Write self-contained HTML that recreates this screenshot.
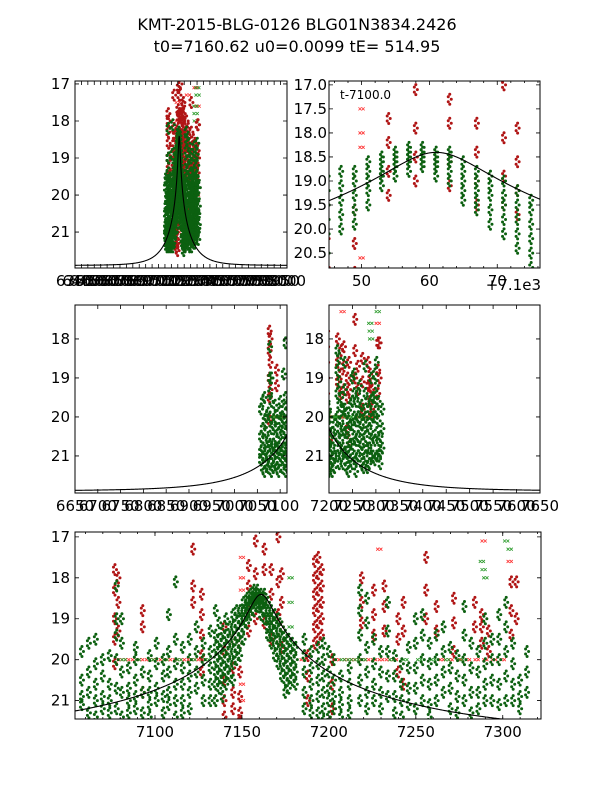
<!DOCTYPE html>
<html><head><meta charset="utf-8"><style>
html,body{margin:0;padding:0;background:#fff;}
svg{display:block;font-family:"DejaVu Sans","Liberation Sans",sans-serif;}
</style></head><body>
<svg id="fig" width="600" height="800" viewBox="0 0 600 800" xmlns="http://www.w3.org/2000/svg">
<rect width="600" height="800" fill="#fff"/>
<text x="297" y="30" font-size="16" text-anchor="middle">KMT-2015-BLG-0126 BLG01N3834.2426</text>
<text x="297" y="52" font-size="16" text-anchor="middle">t0=7160.62 u0=0.0099 tE= 514.95</text>
</svg>
<script>
// drawn model-curve parameters (matched to plotted curve)
const curveT0 = 7161.0, curveUmin = 0.04, curveTE = 170, curveBaseMag = 21.9, curveFs = 1.0;
// green observations: per-night times and magnitudes
const greenTimes = [7058,7062,7066,7070,7074,7078,7081,7085,7089,7093,7097,7101,7105,7108,7112,7116,7120,7124,7128,7132,7135,7137,7139,7141,7143,7145,7147,7149,7151,7153,7155,7157,7159,7161,7163,7165,7167,7169,7171,7173,7175,7177,7179,7181,7186,7190,7194,7197,7200,7203,7207,7212,7218,7222,7226,7230,7234,7238,7242,7246,7250,7254,7258,7262,7266,7270,7274,7278,7282,7286,7290,7294,7298,7302,7306,7310,7314];
const greenMags = [
[19.8,20.5,21.1,20.9],[20.3,20.8,21.3,19.6],[20.1,20.6,21.0,21.4,19.5],[20.4,20.9,21.2,20.0],[19.9,20.6,21.0,21.3],
[19.0,19.4,20.0,20.7,21.2,18.2],[19.0,19.6,20.3,20.8,21.4],[20.2,20.7,21.0,21.3],[20.0,20.5,20.9,21.2,19.7],[20.3,20.8,21.3],
[19.9,20.4,20.8,21.1,21.4],[19.6,20.1,20.7,21.0],[20.0,20.4,20.9,21.3],[18.9,19.8,20.3,20.8,21.1],[18.1,19.5,20.1,20.6,21.0,21.4],
[19.7,20.2,20.6,21.0,21.3],[19.5,20.0,20.4,20.8,21.2],[19.2,19.8,20.3,20.7],[19.6,20.0,20.5,21.0],[19.3,19.8,20.2,20.6,21.0],
[18.8,19.4,19.7,20.0,20.3,20.6,21.0],[19.1,19.5,19.8,20.1,20.4,20.7],[19.3,19.6,19.9,20.2,20.5,20.9],[19.0,19.4,19.7,20.0,20.3,20.6],[19.2,19.5,19.8,20.1,20.4],
[18.9,19.2,19.5,19.8,20.1,20.5],[18.8,19.1,19.4,19.7,20.0],[18.8,19.0,19.3,19.6,19.9],[18.6,18.8,19.0,19.2,19.5],[18.5,18.6,18.8,18.9,19.1],
[18.4,18.5,18.6,18.7,18.9],[18.3,18.4,18.5,18.6,18.8],[18.3,18.4,18.5,18.6,18.7],[18.4,18.5,18.6,18.7,18.9],[18.4,18.5,18.6,18.8,19.0],
[18.6,18.8,19.0,19.2,19.4],[18.8,19.0,19.2,19.4,19.6],[18.9,19.1,19.3,19.6,19.9],[19.0,19.3,19.5,19.8,20.1],[19.2,19.5,19.8,20.1,20.4],
[19.4,19.6,19.9,20.2,20.5,20.8],[19.5,19.8,20.1,20.4,20.7],[19.6,19.9,20.2,20.5],[19.7,20.0,20.3,20.6],[19.5,19.9,20.3,20.8,21.2],
[19.8,20.2,20.6,21.0,21.3],[19.7,20.1,20.5,20.9,21.3],[19.6,20.0,20.4,20.8,21.2,21.5],[19.8,20.3,20.7,21.0,21.4],[20.0,20.5,20.9,21.2],
[20.4,20.8,21.1,21.4],[20.2,20.6,21.0,21.3],[18.3,18.8,19.4,20.0,20.5,21.0],[18.5,19.1,19.7,20.3,20.8,21.2],[19.5,20.1,20.6,21.0],
[19.8,20.3,20.8,21.2],[18.6,19.3,19.8,20.4,20.9],[19.9,20.4,20.9,21.3],[20.1,20.6,21.0,21.4],[19.7,20.2,20.7,21.1],
[19.0,19.6,20.2,20.7,21.2],[18.9,19.4,20.0,20.5,21.0],[19.6,20.1,20.6,21.1,21.4],[19.4,20.0,20.5,21.0],[19.2,19.8,20.3,20.8],
[19.7,20.2,20.7,21.2],[19.9,20.4,20.9,21.3],[18.7,19.4,20.0,20.5,21.0],[19.6,20.2,20.8,21.3],[19.8,20.3,20.8,21.2],
[19.0,19.6,20.1,20.6,21.0],[19.5,20.0,20.5,21.0],[18.9,19.5,20.0,20.6,21.1],[18.6,19.2,19.8,20.4,21.0],[19.6,20.1,20.6,21.0],
[20.5,20.9,21.2],[19.8,20.3,20.8]];
// red observations
const redTimes = [7077,7079,7093,7122,7127,7140,7145,7149,7154,7158,7163,7167,7171,7173,7188,7192,7194,7196,7202,7219,7226,7232,7240,7243,7256,7262,7272,7284,7288,7292,7305,7308];
const redMags = [
[17.8,18.3,19.0,19.5,20.1],[18.0,18.6,19.3],[18.8,19.2,20.8],[17.3,18.2,18.6],[18.4,18.9,19.4,19.9,20.3],
[19.2,19.8,20.5,21.0,21.4],[19.5,20.2,20.8,21.2],[19.6,20.3,20.9,21.3,21.5],[17.7,18.2,18.8,19.3],[17.1,17.9,18.5,19.0],
[17.3,17.8,18.6,19.1],[17.8,18.4,19.0,19.5],[17.0,18.1,18.9,19.5],[17.9,18.6,19.2,19.7],[19.9,20.4,21.0],
[17.6,18.0,18.4,18.8,19.2,19.6],[17.5,17.9,18.3,18.7,19.1,19.5],[17.8,18.2,18.6,19.0,19.4],[20.0,20.6,21.2],[18.0,18.6,19.1],
[18.3,18.9,19.4],[18.2,18.7,19.3],[19.0,19.5,20.3],[18.6,19.3,20.6],[17.5,18.3,19.0],
[18.7,19.3],[18.5,19.1,19.8],[18.6,19.2],[18.9,19.2,19.6],[19.3,19.8],[18.1,18.8,19.4],[18.1,19.0]];
// flagged (x-marker) points
const redFlagTimes = [7080,7084,7088,7092,7096,7100,7104,7108,7112,7116,7120,7124,7128,7150,7150,7150,7150,7150,7185,7205,7210,7214,7218,7222,7226,7230,7234,7238,7265,7270,7275,7280,7285,7290,7295,7300,7229,7289,7304];
const redFlagMags  = [20,20,20,20,20,20,20,20,20,20,20,20,20,17.5,18.0,18.3,20.6,21.0,20,20,20,20,20,20,20,20,20,20,20,20,20,20,20,20,20,20,17.3,17.1,17.6];
const greenFlagTimes = [7082,7090,7098,7106,7114,7122,7130,7178,7178,7178,7180,7208,7212,7216,7220,7236,7244,7252,7260,7268,7276,7288,7289,7290,7302,7304];
const greenFlagMags  = [20,20,20,20,20,20,20,18.0,18.6,19.2,19.6,20,20,20,20,20,20,20,20,20,20,17.6,17.8,18.0,17.1,17.3];

const panelDefs = [
 {name:'full-range-panel', x:75,y:81,w:212,h:187, xlim:[6350,8000], ylim:[16.92,21.97], xt:range(6350,8000,50), yt:[17,18,19,20,21], fy:v=>String(v), fx:v=>String(v)},
 {name:'peak-zoom-panel', x:329,y:81,w:211,h:187, xlim:[7145.2,7176.3], ylim:[16.92,20.81], xt:[7150,7160,7170], yt:[17,17.5,18,18.5,19,19.5,20,20.5], fy:v=>v.toFixed(1), fx:v=>String(v-7100), minorX:[7146,7148,7152,7154,7156,7158,7162,7164,7166,7168,7172,7174,7176]},
 {name:'pre-event-panel', x:75,y:305,w:212,h:188, xlim:[6650,7115], ylim:[17.13,21.95], xt:range(6650,7100,50), yt:[18,19,20,21], fy:v=>String(v), fx:v=>String(v)},
 {name:'post-event-panel', x:329,y:305,w:211,h:188, xlim:[7200,7650], ylim:[17.13,21.95], xt:range(7200,7650,50), yt:[18,19,20,21], fy:v=>String(v), fx:v=>String(v)},
 {name:'event-overview-panel', x:75,y:532,w:466,h:187, xlim:[7054,7322], ylim:[16.88,21.45], xt:[7100,7150,7200,7250,7300], yt:[17,18,19,20,21], fy:v=>String(v), fx:v=>String(v), minorX:range(7060,7320,10)}
];
function range(a,b,s){const r=[];for(let v=a;v<=b+1e-9;v+=s)r.push(v);return r;}
const NS='http://www.w3.org/2000/svg';
const fig=document.getElementById('fig');
function mk(tag,attrs,parent){const e=document.createElementNS(NS,tag);for(const k in attrs)e.setAttribute(k,attrs[k]);(parent||fig).appendChild(e);return e;}
function modelMag(t){const tau=(t-curveT0)/curveTE;const u=Math.sqrt(curveUmin*curveUmin+tau*tau);const A=(u*u+2)/(u*Math.sqrt(u*u+4));return curveBaseMag-2.5*Math.log10(1+curveFs*(A-1));}

panelDefs.forEach((p,i)=>{
  const sx=t=>p.x+(t-p.xlim[0])/(p.xlim[1]-p.xlim[0])*p.w;
  const sy=m=>p.y+(m-p.ylim[0])/(p.ylim[1]-p.ylim[0])*p.h;
  const g=mk('g',{});
  
  
  const cp=mk('clipPath',{id:'c'+i},g);
  mk('rect',{x:p.x,y:p.y,width:p.w,height:p.h},cp);
  const plot=mk('g',{'clip-path':'url(#c'+i+')'},g);
  let d='';
  for(let k=0;k<=600;k++){const t=p.xlim[0]+(p.xlim[1]-p.xlim[0])*k/600;d+=(k?'L':'M')+sx(t).toFixed(2)+','+sy(modelMag(t)).toFixed(2);}
  function xs(times,mags,col,nm){
    const gg=mk('g',{stroke:col,'stroke-width':0.8},plot);
    
    
    times.forEach((t,j)=>{const cx=sx(t),cy=sy(mags[j]);
      [-1.6,1.6].forEach(o=>{mk('path',{d:`M${cx+o-1.5},${cy-1.5}l3,3M${cx+o-1.5},${cy+1.5}l3,-3`},gg);});
    });
  }
  xs(redFlagTimes,redFlagMags,'#ff3030','red-flagged-points');
  xs(greenFlagTimes,greenFlagMags,'#2a9a2a','green-flagged-points');
  function dots(times,mags,col,nm){
    const gg=mk('g',{fill:col},plot);
    
    
    times.forEach((t,j)=>{mags[j].forEach(m=>{const cx=sx(t),cy=sy(m);
      [[-1.5,-2.5],[1.5,0],[-1.5,2.5],[0,-5],[0,5]].forEach(o=>mk('circle',{cx:cx+o[0],cy:cy+o[1],r:1.5},gg));
    });});
  }
  dots(redTimes,redMags,'#b01515','red-observations');
  dots(greenTimes,greenMags,'#0c6010','green-observations');
  const cv=mk('path',{d:d,fill:'none',stroke:'#000','stroke-width':1.1},plot);
  
  
  const fr=mk('rect',{x:p.x,y:p.y,width:p.w,height:p.h,fill:'none',stroke:'#000','stroke-width':1},g);
  
  
  const tk=mk('g',{stroke:'#000','stroke-width':0.8},g);
  p.xt.forEach(v=>{const x=sx(v);mk('path',{d:`M${x},${p.y+p.h}v-4M${x},${p.y}v4`},tk);});
  (p.minorX||[]).forEach(v=>{const x=sx(v);mk('path',{d:`M${x},${p.y+p.h}v-2M${x},${p.y}v2`},tk);});
  p.yt.forEach(v=>{const y=sy(v);mk('path',{d:`M${p.x},${y}h4M${p.x+p.w},${y}h-4`},tk);});
  const xl=mk('g',{'font-size':15,'text-anchor':'middle'},g);
  
  
  p.xt.forEach(v=>{const t=mk('text',{x:sx(v),y:p.y+p.h+18},xl);t.textContent=p.fx(v);});
  const yl=mk('g',{'font-size':15,'text-anchor':'end'},g);
  
  
  p.yt.forEach(v=>{const t=mk('text',{x:p.x-(i===1?2:5),y:sy(v)+5},yl);t.textContent=p.fy(v);});
});
const off=mk('text',{x:541,y:290,'font-size':15,'text-anchor':'end'});


off.textContent='+7.1e3';
const ann=mk('text',{x:340,y:99,'font-size':12});


ann.textContent='t-7100.0';
</script>
</body></html>
